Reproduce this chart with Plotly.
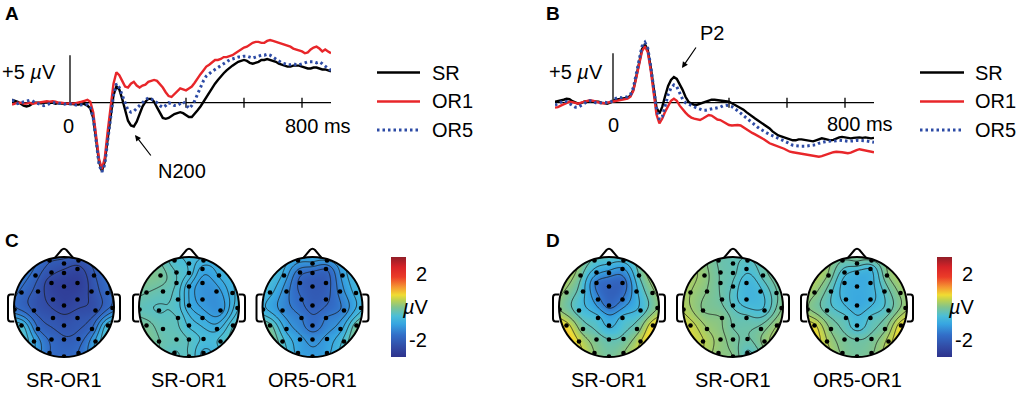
import numpy as np
import plotly.graph_objects as go

W, H = 1017, 396
FONT = "Liberation Sans, Arial, Helvetica, sans-serif"

# ---------------- ERP data (µV), time in ms ----------------
time_ms = list(range(-200, 901, 10))

a_sr = [0.3, 0.2, 0.1, -0.1, -0.3, -0.4, -0.3, -0.1, 0.0, 0.0,
        -0.05, 0.0, 0.05, 0.0, 0.0, -0.1, -0.05, -0.1, -0.1, -0.15,
        -0.1, -0.15, -0.2, -0.2, -0.1, -0.15, -0.3, -0.6, -1.6, -3.8,
        -6.2, -7.2, -6.2, -3.8, -1.2, 0.8, 1.7, 1.4, 0.4, -0.9,
        -1.9, -2.4, -2.5, -2.0, -1.2, -0.4, 0.1, 0.4, 0.4, 0.1,
        -0.5, -1.1, -1.6, -1.7, -1.6, -1.4, -1.2, -1.1, -1.0, -1.1,
        -1.3, -1.5, -1.5, -1.2, -0.8, -0.4, 0.1, 0.6, 1.1, 1.6,
        2.0, 2.4, 2.8, 3.1, 3.4, 3.7, 3.9, 4.1, 4.3, 4.4,
        4.5, 4.4, 4.2, 4.1, 4.2, 4.3, 4.5, 4.5, 4.6, 4.5,
        4.4, 4.3, 4.1, 4.0, 3.9, 3.8, 3.8, 3.9, 3.9, 3.9,
        3.8, 3.7, 3.6, 3.6, 3.7, 3.7, 3.6, 3.5, 3.5, 3.4,
        3.3]
a_or1 = [-0.2, -0.1, 0.0, 0.0, -0.1, -0.1, 0.0, -0.1, -0.05, 0.0,
         0.1, 0.15, 0.15, 0.1, 0.15, 0.1, 0.0, 0.0, -0.05, -0.1,
         -0.05, -0.1, -0.05, 0.0, 0.1, 0.2, 0.3, 0.1, -1.0, -3.5,
         -5.9, -7.0, -5.8, -3.0, -0.2, 2.0, 3.2, 2.9, 2.3, 1.7,
         1.6, 2.0, 2.2, 1.8, 1.6, 1.8, 1.9, 2.2, 2.3, 2.4,
         2.3, 2.0, 1.6, 1.1, 0.7, 0.6, 0.9, 1.2, 1.5, 1.4,
         1.3, 1.5, 1.7, 2.1, 2.6, 3.0, 3.4, 3.8, 4.0, 4.3,
         4.5, 4.5, 4.6, 4.8, 4.8, 4.9, 5.0, 5.2, 5.4, 5.6,
         5.8, 5.9, 6.1, 6.3, 6.4, 6.4, 6.3, 6.3, 6.5, 6.6,
         6.5, 6.4, 6.3, 6.2, 6.1, 6.0, 5.9, 5.7, 5.6, 5.5,
         5.4, 5.2, 5.3, 5.6, 5.8, 5.9, 5.7, 5.4, 5.6, 5.4,
         5.2]
a_or5 = [0.3, 0.1, -0.1, 0.0, 0.1, 0.2, 0.25, 0.2, 0.0, -0.1,
         -0.2, -0.3, -0.2, -0.1, 0.0, 0.0, -0.05, -0.1, -0.15, -0.1,
         -0.1, -0.15, -0.25, -0.25, -0.2, -0.25, -0.2, -0.5, -1.6, -4.0,
         -6.5, -7.3, -6.5, -4.0, -1.3, 0.8, 2.0, 1.6, 0.8, -0.1,
         -0.8, -1.0, -0.9, -0.6, -0.3, 0.1, 0.3, 0.5, 0.4, 0.2,
         0.0, -0.3, -0.5, -0.3, 0.0, -0.1, -0.3, -0.3, -0.1, 0.1,
         -0.2, -0.6, -0.3, 0.2, 0.9, 1.7, 2.3, 2.8, 3.1, 3.3,
         3.5, 3.7, 3.9, 4.1, 4.3, 4.5, 4.6, 4.7, 4.8, 4.8,
         4.9, 4.9, 4.8, 4.7, 4.8, 4.9, 5.0, 5.0, 5.1, 5.0,
         4.8, 4.6, 4.4, 4.2, 4.1, 4.0, 4.0, 4.1, 4.0, 4.0,
         4.1, 4.2, 4.3, 4.3, 4.3, 4.2, 4.3, 4.1, 3.8, 3.6,
         3.4]

b_sr = [0.1, 0.15, 0.2, 0.3, 0.4, 0.35, 0.15, 0.0, -0.1, -0.05,
        0.1, 0.15, 0.15, 0.1, 0.15, 0.1, 0.0, -0.05, -0.1, 0.0,
        0.15, 0.3, 0.35, 0.4, 0.4, 0.5, 0.7, 1.3, 2.6, 4.2,
        5.4, 5.9, 5.3, 3.6, 1.3, -0.5, -1.1, -0.4, 0.7, 1.7,
        2.3, 2.6, 2.4, 1.9, 1.3, 0.6, 0.1, -0.1, -0.2, -0.2,
        -0.1, 0.0, 0.15, 0.25, 0.3, 0.3, 0.25, 0.2, 0.2, 0.15,
        0.1, -0.05, -0.2, -0.35, -0.5, -0.7, -0.95, -1.2, -1.4, -1.6,
        -1.8, -2.0, -2.2, -2.4, -2.6, -2.9, -3.1, -3.3, -3.4, -3.5,
        -3.6, -3.75, -3.8, -3.8, -3.7, -3.7, -3.75, -3.8, -3.85, -3.9,
        -3.8, -3.7, -3.6, -3.65, -3.75, -3.8, -3.75, -3.6, -3.5, -3.45,
        -3.5, -3.55, -3.6, -3.55, -3.5, -3.5, -3.55, -3.5, -3.55, -3.6,
        -3.55]
b_or1 = [-0.5, -0.45, -0.3, -0.15, 0.0, 0.1, 0.05, -0.05, -0.1, 0.0,
         0.1, 0.2, 0.25, 0.2, 0.1, 0.0, -0.05, -0.05, 0.0, 0.05,
         0.1, 0.2, 0.25, 0.3, 0.35, 0.4, 0.6, 1.2, 2.5, 4.0,
         5.2, 5.7, 5.1, 3.3, 0.9, -1.2, -2.1, -1.6, -0.9, -0.3,
         0.2, 0.4, 0.2, -0.3, -0.7, -1.0, -1.3, -1.5, -1.6, -1.7,
         -1.75, -1.6, -1.4, -1.25, -1.3, -1.5, -1.7, -1.75, -1.9, -2.1,
         -2.25, -2.3, -2.25, -2.25, -2.3, -2.5, -2.7, -2.9, -3.05, -3.2,
         -3.35, -3.5, -3.7, -3.9, -4.1, -4.2, -4.3, -4.4, -4.5, -4.65,
         -4.8, -4.95, -5.0, -5.05, -5.1, -5.15, -5.2, -5.3, -5.3, -5.35,
         -5.4, -5.45, -5.4, -5.3, -5.15, -5.1, -5.0, -4.95, -4.95, -5.0,
         -5.05, -5.1, -5.05, -4.9, -4.8, -4.7, -4.75, -4.85, -4.9, -4.95,
         -5.0]
b_or5 = [-0.25, -0.1, 0.1, 0.2, 0.1, -0.1, -0.3, -0.45, -0.45, -0.3,
         -0.1, 0.1, 0.2, 0.15, 0.0, -0.05, 0.0, 0.05, 0.0, 0.05,
         0.2, 0.45, 0.55, 0.5, 0.55, 0.6, 0.8, 1.5, 2.9, 4.5,
         5.7, 6.1, 5.5, 3.7, 1.4, -0.6, -1.7, -1.4, -0.3, 0.8,
         1.5, 1.8, 1.6, 1.0, 0.35, 0.0, -0.15, -0.3, -0.45, -0.55,
         -0.65, -0.75, -0.75, -0.7, -0.6, -0.55, -0.5, -0.45, -0.3, -0.25,
         -0.3, -0.4, -0.6, -0.8, -1.05, -1.3, -1.55, -1.8, -2.0, -2.25,
         -2.5, -2.7, -2.9, -3.05, -3.2, -3.3, -3.45, -3.6, -3.7, -3.85,
         -4.0, -4.15, -4.3, -4.35, -4.4, -4.4, -4.4, -4.35, -4.3, -4.3,
         -4.25, -4.1, -4.0, -3.95, -3.9, -3.9, -3.9, -3.85, -3.8, -3.8,
         -3.85, -3.9, -3.9, -3.85, -3.8, -3.8, -3.8, -3.85, -3.9, -3.95,
         -4.0]

series_names = ["SR", "OR1", "OR5"]
x_ticks_ms = [400, 600, 800]

# ---------------- Topography data ----------------
# electrode positions (normalised head radius = 1, y towards nose)
elec_x = [-0.29, 0.0, 0.29,
          -0.57, -0.25, 0.0, 0.27, 0.60,
          -0.85, -0.52, -0.25, 0.0, 0.27, 0.55, 0.87,
          -0.99, -0.60, -0.22, 0.0, 0.27, 0.63, 0.97,
          -0.85, -0.52, -0.22, 0.0, 0.27, 0.56, 0.88,
          -0.60, -0.25, 0.0, 0.29, 0.63,
          -0.29, 0.0, 0.29]
elec_y = [0.93, 0.87, 0.93,
          0.63, 0.69, 0.68, 0.76, 0.63,
          0.29, 0.31, 0.48, 0.41, 0.48, 0.31, 0.28,
          -0.05, -0.07, 0.15, 0.03, 0.15, -0.07, -0.02,
          -0.37, -0.44, -0.22, -0.37, -0.22, -0.44, -0.37,
          -0.69, -0.65, -0.65, -0.64, -0.69,
          -0.92, -0.99, -0.92]

c_sr_or1 = [-2.0, -2.2, -2.2,
            -1.9, -2.3, -2.5, -2.5, -2.1,
            -1.8, -2.2, -2.6, -2.7, -2.7, -2.3, -1.8,
            -1.6, -2.1, -2.5, -2.6, -2.5, -2.2, -1.6,
            -0.6, -1.7, -2.2, -2.2, -2.2, -1.7, -0.5,
            -1.0, -1.8, -2.0, -1.9, -1.0,
            -1.7, -1.8, -1.7]
c_sr_or1_b = [-0.5, -0.6, -0.8,
              -0.1, -0.4, -0.6, -1.0, -0.9,
              -0.2, -0.3, -0.4, -0.9, -1.2, -1.2, -0.8,
              -0.3, -0.4, -0.5, -0.9, -1.2, -1.2, -0.6,
              -0.1, -0.3, -0.4, -0.6, -0.9, -0.8, -0.4,
              -0.2, -0.3, -0.4, -0.6, -0.5,
              -0.4, -0.4, -0.8]
c_or5_or1 = [-1.1, -1.3, -1.2,
             -1.0, -1.7, -1.9, -1.8, -1.1,
             -0.8, -1.4, -1.9, -2.1, -2.0, -1.4, -0.8,
             -0.8, -1.3, -1.8, -2.0, -1.9, -1.4, -0.7,
             -0.2, -1.0, -1.5, -1.7, -1.5, -1.0, -0.1,
             -0.5, -1.1, -1.3, -1.1, -0.5,
             -1.0, -1.1, -1.0]
d_sr_or1 = [-0.4, -0.7, -0.6,
            -0.2, -1.0, -1.3, -1.2, -0.3,
            0.0, -0.6, -1.6, -1.9, -1.8, -0.8, 0.0,
            0.1, -0.5, -1.4, -1.7, -1.5, -0.6, 0.1,
            0.7, -0.1, -0.6, -0.8, -0.6, -0.1, 0.8,
            0.5, -0.1, -0.3, -0.2, 0.5,
            0.1, -0.1, 0.1]
d_sr_or1_b = [-0.2, -0.3, -0.4,
              0.1, -0.2, -0.3, -0.5, -0.3,
              0.2, 0.0, -0.2, -0.4, -0.7, -0.6, -0.2,
              0.35, 0.0, -0.2, -0.4, -0.7, -0.5, 0.0,
              0.5, 0.2, 0.0, -0.2, -0.3, -0.1, 0.2,
              0.4, 0.1, -0.1, -0.2, 0.1,
              0.1, 0.0, -0.4]
d_or5_or1 = [-0.2, -0.3, -0.2,
             0.0, -0.6, -0.8, -0.7, 0.0,
             0.1, -0.4, -0.8, -0.9, -0.8, -0.4, 0.1,
             0.1, -0.3, -0.8, -0.9, -0.8, -0.3, 0.2,
             0.6, 0.0, -0.4, -0.6, -0.4, 0.0, 0.7,
             0.3, -0.1, -0.2, -0.1, 0.4,
             0.0, -0.1, 0.0]

map_titles = ["SR-OR1", "SR-OR1", "OR5-OR1", "SR-OR1", "SR-OR1", "OR5-OR1"]
map_values = [c_sr_or1, c_sr_or1_b, c_or5_or1, d_sr_or1, d_sr_or1_b, d_or5_or1]
color_range = [-3, 3]
colorbar_ticks = [2, -2]

# ---------------- styling / layout constants ----------------
colorscale = [
    [0.00, "rgb(45,50,140)"], [0.10, "rgb(50,75,165)"], [0.22, "rgb(50,110,200)"],
    [0.33, "rgb(55,165,225)"], [0.41, "rgb(75,190,215)"], [0.50, "rgb(130,196,140)"],
    [0.57, "rgb(190,210,80)"], [0.62, "rgb(240,220,50)"], [0.70, "rgb(245,150,50)"],
    [0.80, "rgb(235,60,40)"], [0.90, "rgb(215,35,40)"], [1.00, "rgb(145,30,40)"],
]
line_styles = {
    "SR": dict(color="black", width=2.4),
    "OR1": dict(color="rgb(232,38,42)", width=2.4),
    "OR5": dict(color="rgb(45,75,165)", width=3, dash="2.5px,3px"),
}
TXT = 20


def px_x(px):
    return px / W


def px_y(py):
    return 1 - py / H


fig = go.Figure()
layout_axes = {}
shapes = []
annotations = []


def txt(s, px, py, size=TXT, xanchor="center", yanchor="middle", bold=False):
    annotations.append(dict(
        text=f"<b>{s}</b>" if bold else s, x=px_x(px), y=px_y(py),
        xref="paper", yref="paper", xanchor=xanchor, yanchor=yanchor,
        showarrow=False, font=dict(family=FONT, size=size, color="black")))


def hidden_axis(domain, rng):
    return dict(domain=domain, range=rng, visible=False, showgrid=False,
                zeroline=False, fixedrange=True)


# ---------------- ERP panels ----------------
ms_px = 0.29
erp_panels = [
    # (axis suffix, zero px x, zero px y, px per µV, y range, series)
    ("", 70, 102.7, 9.5, [-8, 7.5], [a_sr, a_or1, a_or5]),
    ("2", 613, 102.7, 9.9, [-7, 7.5], [b_sr, b_or1, b_or5]),
]
t0, t1 = time_ms[0], time_ms[-1]
for suf, zx, zy, uvpx, yr, series in erp_panels:
    xdom = [px_x(zx + t0 * ms_px), px_x(zx + t1 * ms_px)]
    ydom = [px_y(zy - yr[0] * uvpx), px_y(zy - yr[1] * uvpx)]
    layout_axes["xaxis" + suf] = hidden_axis(xdom, [t0, t1])
    layout_axes["yaxis" + suf] = hidden_axis(ydom, yr)
    xr, yrf = "x" + suf, "y" + suf
    shapes.append(dict(type="line", xref=xr, yref=yrf, x0=t0, x1=t1, y0=0, y1=0,
                       line=dict(color="black", width=1.3), layer="below"))
    shapes.append(dict(type="line", xref=xr, yref=yrf, x0=0, x1=0, y0=0, y1=5,
                       line=dict(color="black", width=1.3), layer="below"))
    for tk in x_ticks_ms:
        shapes.append(dict(type="line", xref=xr, yref=yrf, x0=tk, x1=tk,
                           y0=-5 / uvpx, y1=5 / uvpx,
                           line=dict(color="black", width=1.3), layer="below"))
    for name, vals in zip(series_names, series):
        fig.add_trace(go.Scatter(x=time_ms, y=vals, mode="lines", name=name,
                                 line=line_styles[name], xaxis=xr, yaxis=yrf,
                                 showlegend=False, hoverinfo="skip"))

# ERP texts
txt("+5 <i>µ</i>V", 58, 72, xanchor="right")
txt("0", 68, 126)
txt("800 ms", 283, 126, xanchor="left")
txt("N200", 182, 171)
txt("+5 <i>µ</i>V", 605, 72, xanchor="right")
txt("0", 613, 125)
txt("800 ms", 825, 124, xanchor="left")
txt("P2", 712, 33)
annotations.append(dict(text="", x=px_x(135), y=px_y(135), xref="paper", yref="paper",
                        ax=17, ay=22, axref="pixel", ayref="pixel", showarrow=True,
                        arrowhead=2, arrowsize=1, arrowwidth=1.2, arrowcolor="black",
                        standoff=0))
annotations.append(dict(text="", x=px_x(682), y=px_y(68), xref="paper", yref="paper",
                        ax=15, ay=-22, axref="pixel", ayref="pixel", showarrow=True,
                        arrowhead=2, arrowsize=1, arrowwidth=1.2, arrowcolor="black",
                        standoff=0))

# legends (manual)
legend_rows_y = [72.5, 101.5, 130]
for lx0, lx1, tx in [(377, 420, 430), (920, 964, 973)]:
    for name, ly in zip(series_names, legend_rows_y):
        st = line_styles[name]
        shapes.append(dict(type="line", xref="paper", yref="paper",
                           x0=px_x(lx0), x1=px_x(lx1), y0=px_y(ly), y1=px_y(ly),
                           line=dict(color=st["color"], width=st["width"],
                                     dash=st.get("dash", "solid"))))
        txt(name, tx, ly, xanchor="left")

# panel letters
txt("A", 12, 13, size=19, bold=True)
txt("B", 553, 13, size=19, bold=True)
txt("C", 12, 240, size=19, bold=True)
txt("D", 553, 240, size=19, bold=True)

# ---------------- Topomaps ----------------
ex = np.array(elec_x)
ey = np.array(elec_y)


def green(r):
    out = np.zeros_like(r)
    m = r > 0
    out[m] = r[m] ** 2 * (np.log(r[m]) - 1.0)
    return out


HALF = 1.22
R_PX = 50.0
grid = np.linspace(-1.08, 1.08, 111)
GX, GY = np.meshgrid(grid, grid)
inside = GX ** 2 + GY ** 2 <= 1.0
Gmat = green(np.hypot(ex[:, None] - ex[None, :], ey[:, None] - ey[None, :]))
Dgrid = green(np.hypot(GX.ravel()[:, None] - ex[None, :], GY.ravel()[:, None] - ey[None, :]))

head_cx = [64, 189, 312.5, 609, 733, 857]
head_cy = 307

theta = np.linspace(0, 2 * np.pi, 145)
circle_pts = " L ".join(f"{np.cos(-a):.4f},{np.sin(-a):.4f}" for a in theta)
mask_path = (f"M -1.4,-1.4 L 1.4,-1.4 L 1.4,1.4 L -1.4,1.4 Z "
             f"M {circle_pts} Z")
nose_path = "M -0.18,0.985 L -0.05,1.14 Q 0,1.19 0.05,1.14 L 0.18,0.985"
ear_l = ("M -0.995,0.25 L -1.07,0.25 Q -1.12,0.25 -1.12,0.19 L -1.12,-0.23 "
         "Q -1.12,-0.29 -1.07,-0.29 L -0.995,-0.29")
ear_r = ("M 0.995,0.25 L 1.07,0.25 Q 1.12,0.25 1.12,0.19 L 1.12,-0.23 "
         "Q 1.12,-0.29 1.07,-0.29 L 0.995,-0.29")

for i, (vals, title, cx) in enumerate(zip(map_values, map_titles, head_cx)):
    k = str(3 + i)
    w = np.linalg.solve(Gmat, np.array(vals))
    Z = (Dgrid @ w).reshape(GX.shape)
    zin = Z[inside]
    zmin, zmax = zin.min(), zin.max()
    step = (zmax - zmin) / 7.0
    layout_axes["xaxis" + k] = hidden_axis(
        [px_x(cx - HALF * R_PX), px_x(cx + HALF * R_PX)], [-HALF, HALF])
    layout_axes["yaxis" + k] = hidden_axis(
        [px_y(head_cy + HALF * R_PX), px_y(head_cy - HALF * R_PX)], [-HALF, HALF])
    fig.add_trace(go.Contour(
        x=grid, y=grid, z=Z, coloraxis="coloraxis" if i < 3 else "coloraxis2",
        contours=dict(coloring="heatmap", showlines=True, start=zmin + step,
                      end=zmax - step * 0.999, size=step),
        line=dict(color="rgba(25,25,25,0.85)", width=0.9, smoothing=1),
        xaxis="x" + k, yaxis="y" + k, hoverinfo="skip"))
    fig.add_trace(go.Scatter(x=elec_x, y=elec_y, mode="markers",
                             marker=dict(color="black", size=4.6),
                             xaxis="x" + k, yaxis="y" + k, showlegend=False,
                             hoverinfo="skip", cliponaxis=False))
    shapes.append(dict(type="path", path=mask_path, xref="x" + k, yref="y" + k,
                       fillcolor="white", line=dict(width=0), layer="above"))
    txt(title, cx, 380)

for i, cx in enumerate(head_cx):
    k = str(3 + i)
    shapes.append(dict(type="circle", xref="x" + k, yref="y" + k, x0=-1, y0=-1, x1=1, y1=1,
                       line=dict(color="black", width=2), layer="above"))
    for p in (nose_path, ear_l, ear_r):
        shapes.append(dict(type="path", path=p, xref="x" + k, yref="y" + k,
                           line=dict(color="black", width=2), layer="above"))


def cbar(px_left):
    return dict(x=px_x(px_left), xanchor="left", y=px_y(307), yanchor="middle",
                len=100, lenmode="pixels", thickness=15, thicknessmode="pixels",
                xpad=0, ypad=0, outlinewidth=0, showticklabels=False, ticks="")


for lab_right in (429, 975):
    for v in colorbar_ticks:
        py = 357 - (v - color_range[0]) / (color_range[1] - color_range[0]) * 100
        txt(str(v), lab_right, py, xanchor="right")
    txt("<i>µ</i>V", lab_right + 2, 307, xanchor="right")

fig.update_layout(
    width=W, height=H, margin=dict(l=0, r=0, t=0, b=0),
    paper_bgcolor="white", plot_bgcolor="rgba(0,0,0,0)",
    showlegend=False, font=dict(family=FONT, size=TXT, color="black"),
    coloraxis=dict(colorscale=colorscale, cmin=color_range[0], cmax=color_range[1],
                   colorbar=cbar(391)),
    coloraxis2=dict(colorscale=colorscale, cmin=color_range[0], cmax=color_range[1],
                    colorbar=cbar(937)),
    shapes=shapes, annotations=annotations, **layout_axes)

fig.write_html("out.html", config={"displayModeBar": False, "staticPlot": True},
               post_script="document.body.style.margin='0px';document.body.style.overflow='hidden';")
